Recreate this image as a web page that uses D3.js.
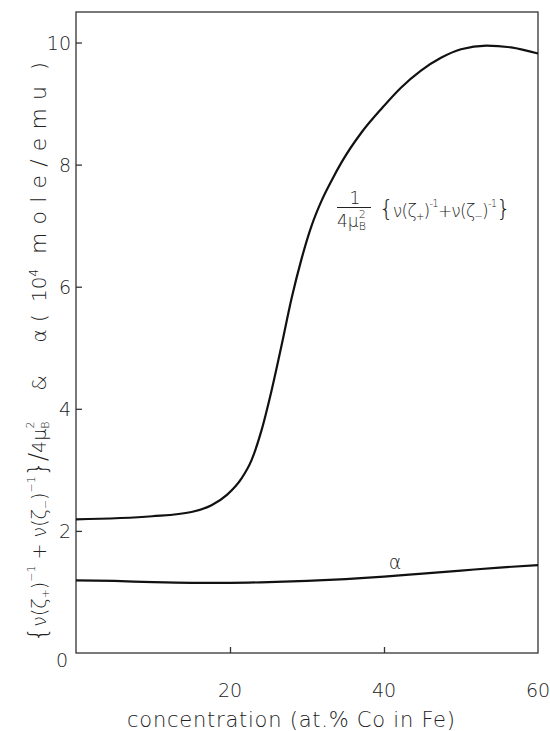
<!DOCTYPE html>
<html>
<head>
<meta charset="utf-8">
<script src="https://cdn.jsdelivr.net/npm/d3@7"></script>
<style>
  html, body { margin: 0; padding: 0; background: #fff; }
  svg { display: block; }
  text { font-family: "DejaVu Sans", "Open Sans", sans-serif; font-weight: 200; fill: #222; }
</style>
</head>
<body>
<div id="chart"></div>
<script>
// Co concentration in Fe (at.%) and the two quantities plotted against it
const concUpper = [0, 9.9, 15.0, 17.6, 19.6, 21.5, 22.8, 24.1, 25.4, 26.7, 28.0, 29.3, 30.6, 31.9, 33.2, 34.5, 37.1, 39.7, 42.2, 44.8, 47.4, 50.0, 53.3, 56.5, 60];
const valUpper  = [2.19, 2.24, 2.31, 2.42, 2.59, 2.86, 3.16, 3.65, 4.30, 5.04, 5.81, 6.46, 7.00, 7.41, 7.74, 8.04, 8.53, 8.92, 9.26, 9.54, 9.75, 9.89, 9.95, 9.92, 9.82];
const concAlpha = [0, 5, 10, 15, 20, 25, 30, 35, 40, 45, 50, 55, 60];
const valAlpha  = [1.19, 1.18, 1.16, 1.15, 1.15, 1.16, 1.18, 1.21, 1.25, 1.30, 1.35, 1.40, 1.44];
const xTicks = [20, 40];
const yTicks = [2, 4, 6, 8, 10];

const W = 550, H = 731;
const svg = d3.select("#chart").append("svg").attr("width", W).attr("height", H);

const x = d3.scaleLinear().domain([0, 60]).range([76, 538]);
const y = d3.scaleLinear().domain([0, 10.5]).range([653, 12]);

// frame
svg.append("rect")
  .attr("x", x(0)).attr("y", y(10.5))
  .attr("width", x(60) - x(0)).attr("height", y(0) - y(10.5))
  .attr("fill", "none").attr("stroke", "#333").attr("stroke-width", 1.3);

// inward ticks
svg.append("g").attr("transform", `translate(0,${y(0)})`)
  .call(d3.axisBottom(x).tickValues(xTicks).tickSize(-6).tickFormat(""))
  .call(g => g.select(".domain").remove())
  .call(g => g.selectAll("line").attr("stroke", "#333").attr("stroke-width", 1.3));
svg.append("g").attr("transform", `translate(${x(0)},0)`)
  .call(d3.axisLeft(y).tickValues(yTicks).tickSize(-6).tickFormat(""))
  .call(g => g.select(".domain").remove())
  .call(g => g.selectAll("line").attr("stroke", "#333").attr("stroke-width", 1.3));

// tick labels
svg.selectAll(".xl").data([0, 20, 40, 60]).join("text")
  .attr("x", d => d === 0 ? x(0) - 14 : x(d))
  .attr("y", d => d === 0 ? 667 : 697)
  .attr("text-anchor", "middle").attr("font-size", 19)
  .text(d => d);
svg.selectAll(".yl").data(yTicks).join("text")
  .attr("x", 71).attr("y", d => y(d) + 7)
  .attr("text-anchor", "end").attr("font-size", 19)
  .text(d => d);

// curves
const line = d3.line().x(d => x(d[0])).y(d => y(d[1])).curve(d3.curveMonotoneX);
svg.append("path").datum(d3.zip(concUpper, valUpper)).attr("d", line)
  .attr("fill", "none").attr("stroke", "#111").attr("stroke-width", 2.2);
svg.append("path").datum(d3.zip(concAlpha, valAlpha)).attr("d", line)
  .attr("fill", "none").attr("stroke", "#111").attr("stroke-width", 2.2);

// curve labels
svg.append("text").attr("x", 395).attr("y", 569).attr("text-anchor", "middle")
  .attr("font-size", 19).text("α");

const lab = svg.append("g");
lab.append("text").attr("x", 355).attr("y", 204).attr("text-anchor", "middle").attr("font-size", 17).text("1");
lab.append("line").attr("x1", 337).attr("x2", 371).attr("y1", 207.5).attr("y2", 207.5)
  .attr("stroke", "#222").attr("stroke-width", 1.2);
const den = lab.append("text").attr("x", 337).attr("y", 227).attr("font-size", 17);
den.append("tspan").text("4μ");
den.append("tspan").attr("font-size", 11).attr("dy", 3).text("B");
den.append("tspan").attr("font-size", 11).attr("dx", -7).attr("dy", -12).text("2");
const br = lab.append("text").attr("x", 379).attr("y", 217).attr("font-size", 17)
  .attr("textLength", 132).attr("lengthAdjust", "spacing");
br.append("tspan").attr("font-size", 23).text("{");
br.append("tspan").text("ν(ζ");
br.append("tspan").attr("font-size", 10).attr("dy", 3).text("+");
br.append("tspan").attr("dy", -3).text(")");
br.append("tspan").attr("font-size", 10).attr("dy", -10).text("-1");
br.append("tspan").attr("dy", 10).text("+ν(ζ");
br.append("tspan").attr("font-size", 10).attr("dy", 3).text("−");
br.append("tspan").attr("dy", -3).text(")");
br.append("tspan").attr("font-size", 10).attr("dy", -10).text("-1");
br.append("tspan").attr("font-size", 23).attr("dy", 10).text("}");

// x title
svg.append("text").attr("x", 127).attr("y", 727)
  .attr("font-size", 21).attr("textLength", 328).attr("lengthAdjust", "spacing")
  .text("concentration (at.% Co in Fe)");

// y title, in rotated pieces
const yt = svg.append("g").attr("transform", "translate(46,0) rotate(-90)");
const tA = yt.append("text").attr("x", -642).attr("y", 0).attr("font-size", 19);
tA.append("tspan").attr("font-size", 24).text("{");
tA.append("tspan").text("ν(ζ");
tA.append("tspan").attr("font-size", 11).attr("dy", 3).text("+");
tA.append("tspan").attr("dy", -3).text(")");
tA.append("tspan").attr("font-size", 11).attr("dy", -11).text("−1");
tA.append("tspan").attr("dy", 11).text(" + ν(ζ");
tA.append("tspan").attr("font-size", 11).attr("dy", 3).text("−");
tA.append("tspan").attr("dy", -3).text(")");
tA.append("tspan").attr("font-size", 11).attr("dy", -11).text("−1");
tA.append("tspan").attr("font-size", 24).attr("dy", 11).text("}");
tA.append("tspan").attr("font-size", 24).text("/");
tA.append("tspan").text("4μ");
tA.append("tspan").attr("font-size", 11).attr("dy", 3).text("B");
tA.append("tspan").attr("font-size", 11).attr("dx", -7).attr("dy", -15).text("2");
yt.append("text").attr("x", -383).attr("y", 0).attr("text-anchor", "middle").attr("font-size", 20).text("&");
yt.append("text").attr("x", -336).attr("y", 0).attr("text-anchor", "middle").attr("font-size", 20).text("α");
yt.append("text").attr("x", -322).attr("y", 0).attr("font-size", 20).text("(");
const tD = yt.append("text").attr("x", -302).attr("y", 0).attr("font-size", 20);
tD.append("tspan").text("10");
tD.append("tspan").attr("font-size", 12).attr("dy", -8).text("4");
yt.append("text").attr("x", -254).attr("y", 0).attr("font-size", 22)
  .attr("textLength", 168).attr("lengthAdjust", "spacing").text("mole/emu");
yt.append("text").attr("x", -70).attr("y", 0).attr("font-size", 20).text(")");
</script>
</body>
</html>
